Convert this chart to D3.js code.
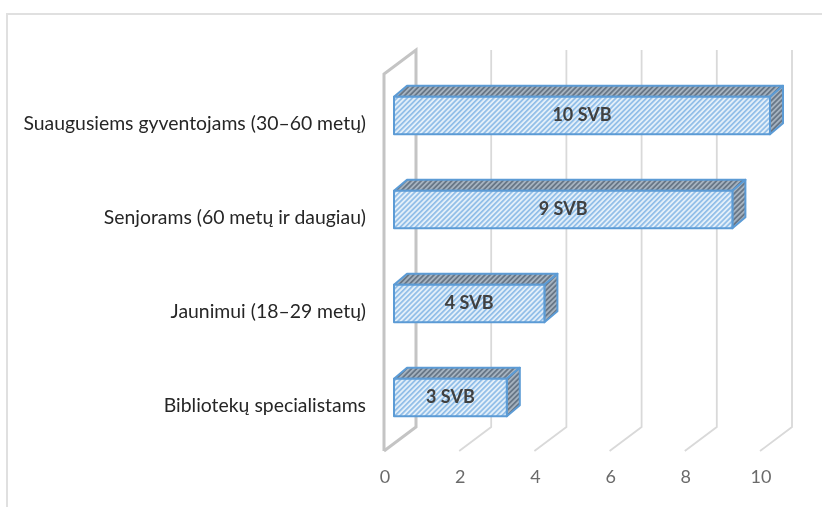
<!DOCTYPE html>
<html>
<head>
<meta charset="utf-8">
<script src="https://cdn.jsdelivr.net/npm/d3@7"></script>
<style>
html, body { margin: 0; padding: 0; background: #fff; }
svg { display: block; }
text { font-family: Lato, "Open Sans", sans-serif; }
</style>
</head>
<body>
<svg id="chart" width="822" height="507"></svg>
<script>
var categories = [
  "Suaugusiems gyventojams (30–60 metų)",
  "Senjorams (60 metų ir daugiau)",
  "Jaunimui (18–29 metų)",
  "Bibliotekų specialistams"
];
var values = [10, 9, 4, 3];
var valueLabels = ["10 SVB", "9 SVB", "4 SVB", "3 SVB"];
var tickValues = [0, 2, 4, 6, 8, 10];

var svg = d3.select("#chart");

// floor depth of the 3d box, front edge to back wall
var wallDx = 32, wallDy = -24;
var floorY = 451, wallTop = 74;
var barDx = 13, barDy = -11, barInset = 10;

var x = d3.scaleLinear().domain([0, 10]).range([384, 760]);
var y = d3.scaleBand().domain(categories).range([68.5, 444.5]).paddingInner(0.6).paddingOuter(0.3);

var defs = svg.append("defs");

function hatch(id, bg, fg, size, w) {
  var p = defs.append("pattern")
    .attr("id", id)
    .attr("patternUnits", "userSpaceOnUse")
    .attr("width", size)
    .attr("height", size)
    .attr("patternTransform", "rotate(45)");
  p.append("rect").attr("width", size).attr("height", size).attr("fill", bg);
  p.append("rect").attr("width", w).attr("height", size).attr("fill", fg);
}
hatch("front", "#e3eff9", "#8fbde8", 3.6, 1.7);
hatch("dark", "#a5b2bf", "#687787", 3.6, 1.8);

// scan of the original is a bit soft
defs.append("filter")
  .attr("id", "soft")
  .attr("x", 0).attr("y", 0).attr("width", 1).attr("height", 1)
  .append("feGaussianBlur")
  .attr("stdDeviation", 0.45);

var root = svg.append("g").attr("filter", "url(#soft)");
root.append("rect").attr("width", 822).attr("height", 507).attr("fill", "#fff");

// outer frame
var frame = d3.line();
root.append("path")
  .attr("d", frame([[7, 507], [7, 14], [822, 14]]))
  .attr("fill", "none")
  .attr("stroke", "#e0e0e0")
  .attr("stroke-width", 2);

// gridlines on floor and back wall
var grid = root.append("g").attr("fill", "none").attr("stroke", "#d9d9d9").attr("stroke-width", 1.8);
grid.selectAll("path")
  .data(tickValues.slice(1))
  .join("path")
  .attr("d", function(d) {
    return frame([
      [x(d), floorY],
      [x(d) + wallDx, floorY + wallDy],
      [x(d) + wallDx, wallTop + wallDy]
    ]);
  });

// side wall at zero
root.append("path")
  .attr("d", frame([
    [x(0), floorY],
    [x(0) + wallDx, floorY + wallDy],
    [x(0) + wallDx, wallTop + wallDy],
    [x(0), wallTop],
    [x(0), floorY]
  ]))
  .attr("fill", "none")
  .attr("stroke", "#c4c4c4")
  .attr("stroke-width", 3);

// bars
var rows = categories.map(function(c, i) {
  return { name: c, value: values[i], label: valueLabels[i] };
});

var bars = root.append("g").selectAll("g")
  .data(rows)
  .join("g")
  .attr("stroke", "#5b9bd5")
  .attr("stroke-width", 2)
  .attr("stroke-linejoin", "round");

function barLeft() { return x(0) + barInset; }
function barRight(d) { return barLeft() + x(d.value) - x(0); }

bars.append("path")
  .attr("fill", "url(#dark)")
  .attr("d", function(d) {
    var t = y(d.name), l = barLeft(), r = barRight(d);
    return frame([[l, t], [l + barDx, t + barDy], [r + barDx, t + barDy], [r, t]]) + "Z";
  });

bars.append("path")
  .attr("fill", "url(#dark)")
  .attr("d", function(d) {
    var t = y(d.name), r = barRight(d), b = t + y.bandwidth();
    return frame([[r, t], [r + barDx, t + barDy], [r + barDx, b + barDy], [r, b]]) + "Z";
  });

bars.append("rect")
  .attr("fill", "url(#front)")
  .attr("x", barLeft)
  .attr("y", function(d) { return y(d.name); })
  .attr("width", function(d) { return x(d.value) - x(0); })
  .attr("height", y.bandwidth());

bars.append("text")
  .attr("x", function(d) { return (barLeft() + barRight(d)) / 2; })
  .attr("y", function(d) { return y(d.name) + y.bandwidth() / 2 - 0.5; })
  .attr("dy", "0.35em")
  .attr("text-anchor", "middle")
  .attr("stroke", "none")
  .attr("fill", "#404040")
  .attr("font-weight", 700)
  .attr("font-size", 18)
  .text(function(d) { return d.label; });

// category labels
root.append("g").selectAll("text")
  .data(rows)
  .join("text")
  .attr("x", 366)
  .attr("y", function(d) { return y(d.name) + y.bandwidth() / 2 + 8; })
  .attr("dy", "0.35em")
  .attr("text-anchor", "end")
  .attr("fill", "#262626")
  .attr("font-size", 19.4)
  .text(function(d) { return d.name; });

// value axis, labels only
var axis = d3.axisBottom(x).tickValues(tickValues).tickSize(0).tickPadding(0);
var axisG = root.append("g").attr("transform", "translate(0.5,470)").call(axis);
axisG.select(".domain").remove();
axisG.selectAll("text")
  .attr("fill", "#6b6b6b")
  .attr("font-size", 18)
  .style("font-family", "Lato, sans-serif");
</script>
</body>
</html>
